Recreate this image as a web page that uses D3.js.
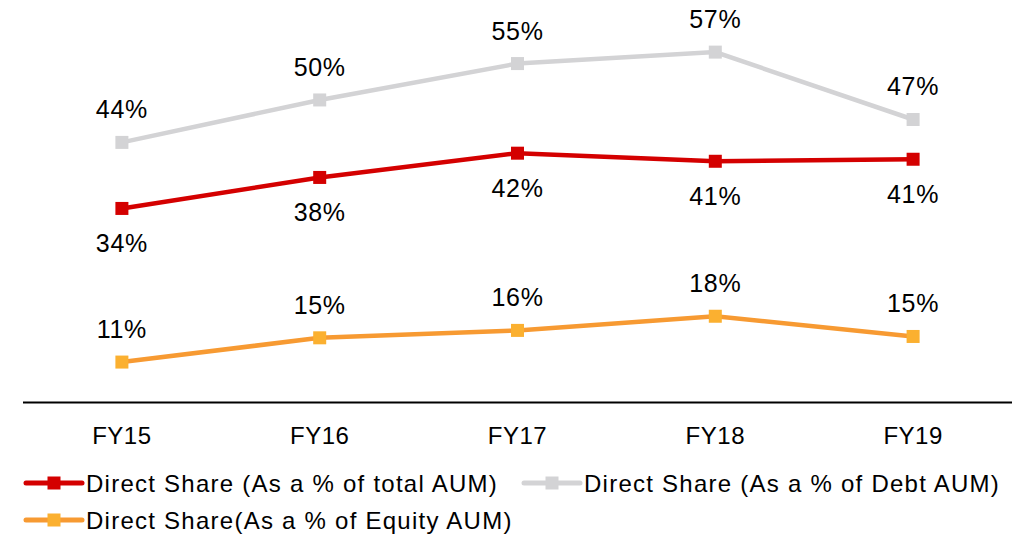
<!DOCTYPE html>
<html>
<head>
<meta charset="utf-8">
<script src="https://cdn.jsdelivr.net/npm/d3@7"></script>
<style>
  body { margin: 0; background: #fff; }
  text { font-family: "Liberation Sans", Arial, sans-serif; fill: #000; }
</style>
</head>
<body>
<svg id="chart" width="1021" height="537"></svg>
<script>
// data
var years = ["FY15", "FY16", "FY17", "FY18", "FY19"];
var totalShare = [33.8, 38.4, 42.0, 40.8, 41.1];
var debtShare = [43.6, 49.9, 55.3, 57.0, 47.0];
var equityShare = [11.0, 14.6, 15.7, 17.8, 14.8];

var series = [
  {name: "Direct Share (As a % of total AUM)", values: totalShare, line: "#d40000", marker: "#d40000", labelPos: "below"},
  {name: "Direct Share (As a % of Debt AUM)", values: debtShare, line: "#d3d3d5", marker: "#d3d3d5", labelPos: "above"},
  {name: "Direct Share(As a % of Equity AUM)", values: equityShare, line: "#f79a32", marker: "#fbb030", labelPos: "above"}
];

var svg = d3.select("#chart");

var x = d3.scaleBand().domain(years).range([23, 1012]);
var y = d3.scaleLinear().domain([5, 60]).range([402.5, 31.9]);

function cx(d, i) { return x(years[i]) + x.bandwidth() / 2; }

// x axis line
svg.append("line")
  .attr("x1", 23).attr("x2", 1012)
  .attr("y1", y(5)).attr("y2", y(5))
  .attr("stroke", "#000")
  .attr("stroke-width", 2);

// category labels
svg.append("g").selectAll("text")
  .data(years)
  .enter().append("text")
  .attr("x", function(d) { return x(d) + x.bandwidth() / 2; })
  .attr("y", 444)
  .attr("text-anchor", "middle")
  .style("font-size", "24px")
  .style("letter-spacing", "0.5px")
  .text(function(d) { return d; });

var line = d3.line()
  .x(function(d, i) { return cx(d, i); })
  .y(function(d) { return y(d); });

series.forEach(function(s) {
  var g = svg.append("g");

  g.append("path")
    .datum(s.values)
    .attr("d", line)
    .attr("fill", "none")
    .attr("stroke", s.line)
    .attr("stroke-width", 4.5);

  g.selectAll("rect")
    .data(s.values)
    .enter().append("rect")
    .attr("x", function(d, i) { return cx(d, i) - 6.5; })
    .attr("y", function(d) { return y(d) - 6.5; })
    .attr("width", 13)
    .attr("height", 13)
    .attr("fill", s.marker);

  g.selectAll("text")
    .data(s.values)
    .enter().append("text")
    .attr("x", function(d, i) { return cx(d, i); })
    .attr("y", function(d) {
      if (s.labelPos == "below") {
        return y(d) + 44;
      } else {
        return y(d) - 24;
      }
    })
    .attr("text-anchor", "middle")
    .style("font-size", "25px")
    .style("letter-spacing", "0.7px")
    .text(function(d) { return Math.round(d) + "%"; });
});

// legend
var legendPos = [[26, 483], [524, 483], [26, 520]];

var legend = svg.append("g").selectAll("g")
  .data(series)
  .enter().append("g")
  .attr("transform", function(d, i) { return "translate(" + legendPos[i][0] + "," + legendPos[i][1] + ")"; });

legend.append("line")
  .attr("x1", 0).attr("x2", 56)
  .attr("y1", 0).attr("y2", 0)
  .attr("stroke", function(d) { return d.line; })
  .attr("stroke-width", 5)
  .attr("stroke-linecap", "round");

legend.append("rect")
  .attr("x", 21.5).attr("y", -6.5)
  .attr("width", 13).attr("height", 13)
  .attr("fill", function(d) { return d.marker; });

legend.append("text")
  .attr("x", 60)
  .attr("y", 9)
  .style("font-size", "24px")
  .style("letter-spacing", "1.25px")
  .text(function(d) { return d.name; });
</script>
</body>
</html>
